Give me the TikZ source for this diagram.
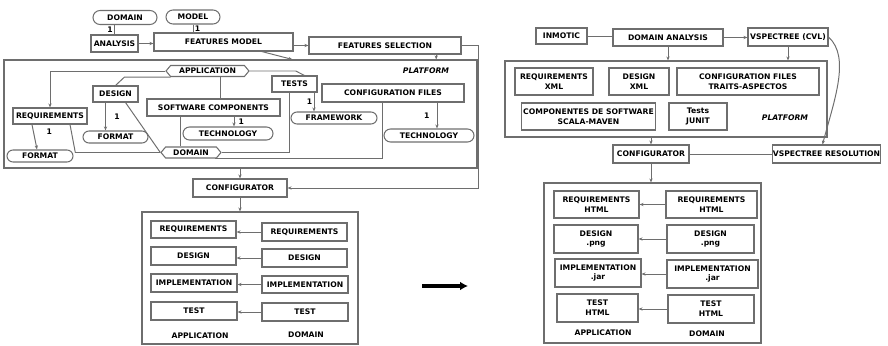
\documentclass[tikz,border=0pt]{standalone}
\usepackage{fontspec}
\setmainfont{DejaVu Sans}
\usetikzlibrary{arrows.meta}
\usetikzlibrary{shapes.misc}
\usetikzlibrary{shapes.symbols}
\usetikzlibrary{calc}
\definecolor{edgegray}{HTML}{6E6E6E}

\tikzset{
  every node/.style={font=\fontsize{5.45}{7}\selectfont\bfseries},
  sz/.style 2 args={minimum width=#1*\px, minimum height=#2*\px},
  box/.style={draw=edgegray, line width=0.75pt, rectangle, inner sep=0pt, align=center},
  pill/.style={draw=edgegray, line width=0.75pt, rounded rectangle, inner sep=0pt},
  hexa/.style={draw=edgegray, line width=0.75pt, signal, signal to=east and west, signal pointer angle=100, inner sep=0pt},
  platbox/.style={draw=edgegray, line width=0.75pt, rectangle, inner sep=0pt},
  platname/.style={font=\fontsize{5.45}{7}\selectfont\bfseries\itshape},
  link/.style={draw=edgegray, line width=0.7pt},
  arr/.style={link, -{Stealth[length=\al, width=\aw]}},
  one/.style={inner sep=1pt}
}

\begin{document}
\begin{tikzpicture}[x=0.25mm, y=-0.25mm]
\def\px{0.25mm}
\def\al{1mm}
\def\aw{0.8mm}
\useasboundingbox (0,0) rectangle (888,346);

% ---- left: feature model
\node [pill, sz={64}{14}] (ldom) at (125,17.5) {DOMAIN};
\node [pill, sz={54}{14}] (lmod) at (193,17) {MODEL};
\node [box, sz={47}{17}] (lana) at (114.5,43.5) {ANALYSIS};
\node [box, sz={139}{18}] (lfm) at (223.5,42) {FEATURES MODEL};
\node [box, sz={152}{17}] (lfs) at (385,45.5) {FEATURES SELECTION};

\node [platbox, sz={473}{108}] (lplat) at (240.5,114) {};
\node [platname] (lpl) at (426,71) {PLATFORM};
\node [hexa, sz={83}{11}] (lapp) at (207.5,71) {APPLICATION};
\node [box, sz={74}{16}] (lreq) at (50,116) {REQUIREMENTS};
\node [box, sz={45}{16}] (ldes) at (115.5,94) {DESIGN};
\node [pill, sz={66}{12}] (lfmt1) at (40,156) {FORMAT};
\node [pill, sz={65}{12}] (lfmt2) at (115.5,137) {FORMAT};
\node [box, sz={133}{17}] (lsw) at (213.5,107.5) {SOFTWARE COMPONENTS};
\node [pill, sz={90}{13}] (ltec1) at (228,133.5) {TECHNOLOGY};
\node [hexa, sz={60}{11}] (ldomp) at (191,152.5) {DOMAIN};
\node [box, sz={45}{16}] (ltst) at (294.5,84) {TESTS};
\node [pill, sz={86}{12}] (lfw) at (334,118) {FRAMEWORK};
\node [box, sz={142}{18}] (lcf) at (393,93) {CONFIGURATION FILES};
\node [pill, sz={90}{13}] (ltec2) at (429,135.5) {TECHNOLOGY};

\node [box, sz={94}{18}] (lcfg) at (240,188) {CONFIGURATOR};
\node [platbox, sz={216}{132}] (lout) at (250,278) {};
\node [box, sz={85}{17}] (la1) at (193.5,229.5) {REQUIREMENTS};
\node [box, sz={85}{18}] (la2) at (193.5,256) {DESIGN};
\node [box, sz={86}{18}] (la3) at (194,283) {IMPLEMENTATION};
\node [box, sz={86}{18}] (la4) at (194,311) {TEST};
\node [box, sz={85}{18}] (ld1) at (304.5,232) {REQUIREMENTS};
\node [box, sz={85}{18}] (ld2) at (304.5,258) {DESIGN};
\node [box, sz={86}{17}] (ld3) at (305,284.5) {IMPLEMENTATION};
\node [box, sz={86}{18}] (ld4) at (305,312) {TEST};
\node (lapl) at (200,336) {APPLICATION};
\node (ldml) at (306,335) {DOMAIN};

\draw [link] (lana.north) -- (lana.north |- ldom.south) node[midway,left,one] {1};
\draw [link] (lmod.south) -- (lmod.south |- lfm.north) node[midway,right,one] {1};
\draw [arr] (lana.east) -- (lana.east -| lfm.west);
\draw [arr] (lfs.west -| lfm.east) -- (lfs.west);
\draw [arr] (lfm.-14) -- ($(lplat.north west)+(289,0)$);
\draw [arr] (lfs.-10) -- (lfs.-10 |- lplat.north);
\draw [arr] (lfs.east) -- ++(17,0) |- (lcfg.east);

\draw [arr] (lapp.west) -| (lreq.north);
\draw [link] (lapp.south) ++(-37,0) -- ++(-46,0) -- (ldes.north);
\draw [arr] ($(ldes.south)+(-10,0)$) -- ($(lfmt2.north)+(-10,0)$) node[midway,right=5pt,one] {1};
\draw [link] ($(ldes.south)+(10,0)$) -- (ldomp.west);
\draw [arr] ($(lreq.south)+(-18,0)$) -- ($(lfmt1.north)+(-3,0)$) node[pos=0.3,right=8pt,one] {1};
\draw [link] ($(lreq.south)+(20,0)$) -- ($(ldomp.west)+(-85,0)$) -- (ldomp.west);
\draw [link] ($(lapp.south)+(13,0)$) -- ($(lsw.north)+(7,0)$);
\draw [link] ($(lsw.south)+(-33.5,0)$) -- ($(ldomp.north)+(-11,0)$);
\draw [arr] ($(lsw.south)+(20.5,0)$) -- ($(ltec1.north)+(6,0)$) node[midway,right=2pt,one] {1};
\draw [link] (lapp.east) -- ++(46,0) -- ($(ltst.north)+(10,0)$);
\draw [link] ($(ltst.south)+(-5.5,0)$) |- (ldomp.east);
\draw [arr] ($(ltst.south)+(19.5,0)$) -- ($(lfw.north)+(-20,0)$) node[midway,left,one] {1};
\draw [arr] ($(lcf.south)+(44,0)$) -- ($(ltec2.north)+(8,0)$) node[midway,left=4pt,one] {1};
\draw [link] ($(lcf.south)+(-11,0)$) |- ($(ldomp.south)+(24,0)$);

\draw [arr] (lcfg.north |- lplat.south) -- (lcfg.north);
\draw [arr] (lcfg.south) -- (lcfg.south |- lout.north);
\foreach \i in {1,...,4}
  \draw [arr] (ld\i.west) -- (ld\i.west -| la\i.east);

% ---- middle
\coordinate (m1) at (422,286);
\coordinate (m2) at (468,286);
\draw [line width=0.8mm, -{Latex[length=2mm, width=2.2mm]}] (m1) -- (m2);

% ---- right: inmotic
\node [box, sz={51}{16}] (rinm) at (561.5,36) {INMOTIC};
\node [box, sz={110}{17}] (rda) at (668,37.5) {DOMAIN ANALYSIS};
\node [box, sz={80}{18}] (rcvl) at (788,37) {VSPECTREE (CVL)};

\node [platbox, sz={322}{76}] (rplat) at (666,99) {};
\node [box, sz={78}{27}] (rreq) at (554,81.5) {REQUIREMENTS\\XML};
\node [box, sz={60}{27}] (rdes) at (639,81.5) {DESIGN\\XML};
\node [box, sz={142}{27}] (rcf) at (748,81.5) {CONFIGURATION FILES\\TRAITS-ASPECTOS};
\node [box, sz={134}{27}] (rcomp) at (588.5,116.5) {COMPONENTES DE SOFTWARE\\SCALA-MAVEN};
\node [box, sz={58}{27}] (rtst) at (698,116.5) {Tests\\JUNIT};
\node [platname] (rpl) at (785,118) {PLATFORM};

\node [box, sz={76}{18}] (rcfg) at (651,154) {CONFIGURATOR};
\node [box, sz={107}{18}] (rres) at (826.5,154) {VSPECTREE RESOLUTION};

\node [platbox, sz={217}{160}] (rout) at (652.5,263) {};
\node [box, sz={85}{27}] (ra1) at (596.5,204.5) {REQUIREMENTS\\HTML};
\node [box, sz={84}{28}] (ra2) at (596,239) {DESIGN\\.png};
\node [box, sz={86}{28}] (ra3) at (598,273) {IMPLEMENTATION\\.jar};
\node [box, sz={81}{28}] (ra4) at (597.5,308) {TEST\\HTML};
\node [box, sz={91}{27}] (rd1) at (711.5,204.5) {REQUIREMENTS\\HTML};
\node [box, sz={87}{28}] (rd2) at (710.5,239) {DESIGN\\.png};
\node [box, sz={91}{28}] (rd3) at (712.5,274) {IMPLEMENTATION\\.jar};
\node [box, sz={86}{28}] (rd4) at (711,309) {TEST\\HTML};
\node (rapl) at (603,333) {APPLICATION};
\node (rdml) at (707,334) {DOMAIN};

\draw [link] (rinm.east) -- (rinm.east -| rda.west);
\draw [arr] (rda.east) -- (rda.east -| rcvl.west);
\draw [arr] (rda.south) -- (rda.south |- rplat.north);
\draw [arr] (rcvl.south) -- (rcvl.south |- rplat.north);
\draw [arr] (rcfg.north |- rplat.south) -- (rcfg.north);
\draw [link] (rcfg.east) -- (rres.west);
\draw [arr] (rcvl.east) .. controls +(22,20) and +(12,-45) .. ($(rres.north)+(-4,0)$);
\draw [arr] (rcfg.south) -- (rcfg.south |- rout.north);
\foreach \i in {1,...,4}
  \draw [arr] (rd\i.west) -- (rd\i.west -| ra\i.east);
\end{tikzpicture}
\end{document}
